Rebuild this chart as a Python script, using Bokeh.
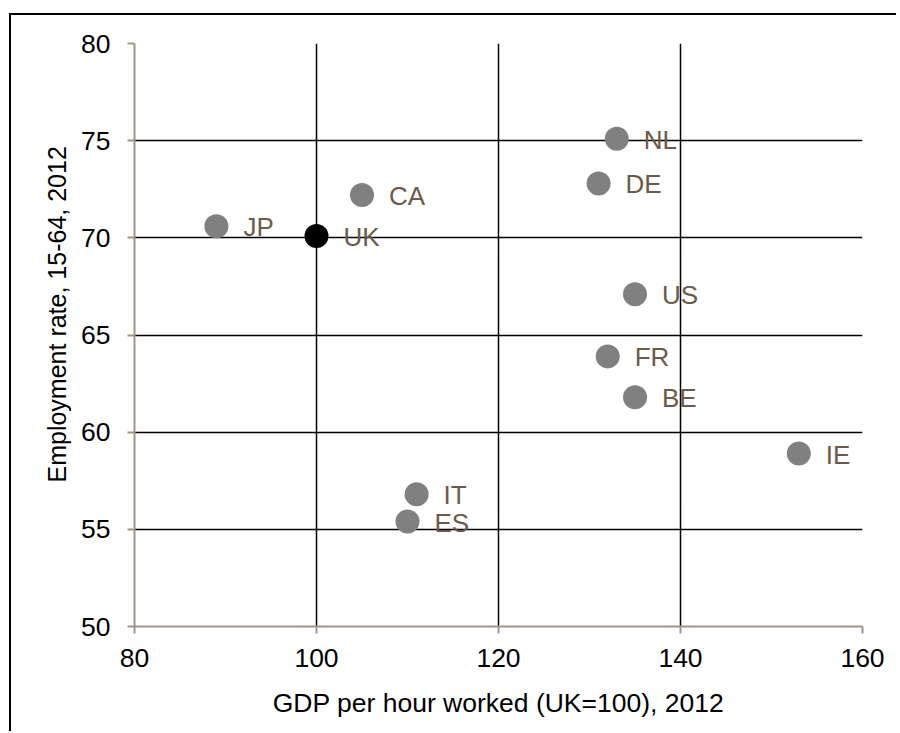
from bokeh.plotting import figure
from bokeh.models import ColumnDataSource, LabelSet, FixedTicker, Range1d, Title
from bokeh.core.properties import value
from bokeh.embed import file_html
from bokeh.resources import INLINE

# Data
countries = ["JP", "UK", "CA", "NL", "DE", "US", "FR", "BE", "IE", "IT", "ES"]
gdp_per_hour = [89, 100, 105, 133, 131, 135, 132, 135, 153, 111, 110]
employment_rate = [70.6, 70.1, 72.2, 75.1, 72.8, 67.1, 63.9, 61.8, 58.9, 56.8, 55.4]
x_ticks = [80, 100, 120, 140, 160]
y_ticks = [50, 55, 60, 65, 70, 75, 80]
x_title = "GDP per hour worked (UK=100), 2012"
y_title = "Employment rate, 15-64, 2012"

FONT = "Liberation Sans"
LABEL_COLOR = "#6b5a4a"
AXIS_COLOR = "#a0958a"

colors = ["black" if c == "UK" else "#808080" for c in countries]
src = ColumnDataSource(dict(x=gdp_per_hour, y=employment_rate, name=countries, color=colors))

p = figure(
    width=887, height=718,
    x_range=Range1d(80, 160), y_range=Range1d(50, 80),
    output_backend="svg", toolbar_location=None,
    min_border_left=123, min_border_top=28, min_border_right=36, min_border_bottom=107,
    background_fill_color="white", border_fill_color="white",
)
p.margin = (13, 0, 0, 9)
p.styles = {"border-top": "2px solid black", "border-left": "2px solid black"}
p.outline_line_color = None

# grid
for g in (p.xgrid, p.ygrid):
    g.grid_line_color = "black"
    g.grid_line_width = 1.5
p.xgrid.ticker = FixedTicker(ticks=x_ticks)
p.ygrid.ticker = FixedTicker(ticks=y_ticks)

# axes
p.xaxis.ticker = FixedTicker(ticks=x_ticks)
p.yaxis.ticker = FixedTicker(ticks=y_ticks)
for ax in (p.xaxis, p.yaxis):
    ax.axis_line_color = AXIS_COLOR
    ax.axis_line_width = 2
    ax.major_tick_line_color = AXIS_COLOR
    ax.major_tick_line_width = 2
    ax.major_tick_out = 7
    ax.major_tick_in = 0
    ax.minor_tick_line_color = None
    ax.major_label_text_font = FONT
    ax.major_label_text_font_size = "26.5px"
    ax.major_label_text_color = "black"
p.yaxis.major_label_standoff = 17
p.xaxis.major_label_standoff = 15

p.xaxis.axis_label = x_title
p.xaxis.axis_label_text_font = FONT
p.xaxis.axis_label_text_font_size = "26.5px"
p.xaxis.axis_label_text_font_style = "normal"
p.xaxis.axis_label_text_color = "black"
p.xaxis.axis_label_standoff = 18

# points
p.scatter("x", "y", source=src, size=24, fill_color="color", line_color=None)

# point labels
labels = LabelSet(x="x", y="y", text="name", source=src, x_offset=27, y_offset=-1,
                  text_font=value(FONT), text_font_size="26px", text_color=LABEL_COLOR,
                  text_baseline="middle", text_align="left")
p.add_layout(labels)

# y-axis title placed as a side title (offset upwards as in the reference)
ytitle = Title(text=y_title, align="left", offset=144, standoff=16,
               text_font=FONT, text_font_size="25px", text_font_style="normal",
               text_color="black")
p.add_layout(ytitle, "left")

open("out.html", "w").write(file_html(p, INLINE))
